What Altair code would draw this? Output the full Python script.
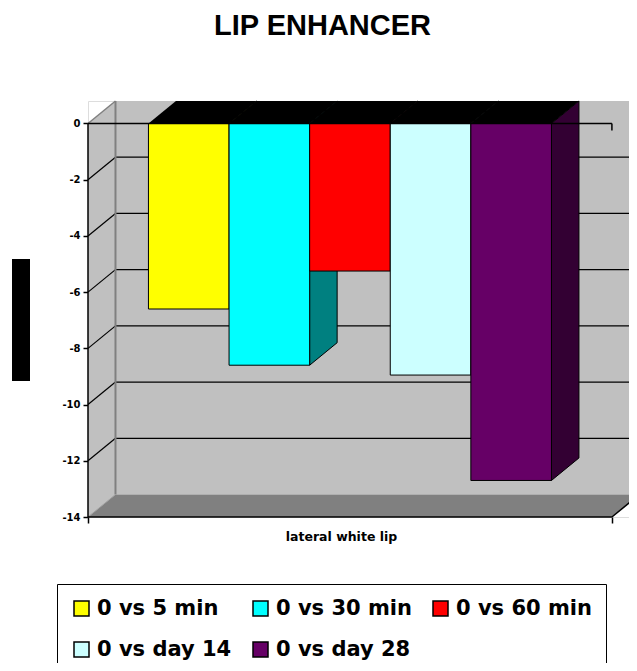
import altair as alt
import pandas as pd

# ---- data ----
chart_title = "LIP ENHANCER"
category = "lateral white lip"
series = ["0 vs 5 min", "0 vs 30 min", "0 vs 60 min", "0 vs day 14", "0 vs day 28"]
values = [-6.6, -8.6, -5.25, -8.95, -12.7]
front_colors = ["#FFFF00", "#00FFFF", "#FF0000", "#CCFFFF", "#660066"]
side_colors = ["#808000", "#008080", "#800000", "#668080", "#330033"]
y_ticks = [-14, -12, -10, -8, -6, -4, -2, 0]

# ---- 3-D geometry (in axis units) ----
AXIS_LEN = 6.5                       # length of the front category axis in bar widths
GAP = (AXIS_LEN - len(series)) / 2   # empty space each side of the bar group
DX = 0.341                           # depth offset along x
DY = 0.8                             # depth offset along y
YMIN = y_ticks[0]
X_MAX = 6.712

xs = alt.Scale(domain=[0, X_MAX], nice=False, zero=False)
ys = alt.Scale(domain=[YMIN, DY], nice=False, zero=False)
WALL = "#C0C0C0"
FLOOR = "#808080"

x_axis = alt.Axis(values=[0, AXIS_LEN], labels=False, domain=False, grid=False,
                  ticks=True, tickSize=6, tickColor="black", tickWidth=1.5,
                  title=category,
                  titleFont="DejaVu Sans", titleFontWeight="bold", titleFontSize=12.5,
                  titleColor="black", titleX=253, titleY=23,
                  titleBaseline="alphabetic", titleAlign="center")
y_axis = alt.Axis(values=y_ticks, labelExpr="'' + datum.value", domain=False, grid=False,
                  ticks=True, tickSize=5, tickColor="black", tickWidth=1.5, title=None,
                  labelFont="DejaVu Sans", labelFontWeight="bold", labelFontSize=10,
                  labelColor="black", labelPadding=3)


def X(f="x"):
    return alt.X(f"{f}:Q", scale=xs, axis=x_axis, title=category)


def Y(f="y"):
    return alt.Y(f"{f}:Q", scale=ys, axis=y_axis, title=None)


# walls (vertical areas)
walls = pd.DataFrame([
    {"face": "left", "x": 0, "y": YMIN, "y2": 0, "fill": WALL},
    {"face": "left", "x": DX, "y": YMIN + DY, "y2": DY, "fill": WALL},
    {"face": "back", "x": DX, "y": YMIN + DY, "y2": DY, "fill": WALL},
    {"face": "back", "x": AXIS_LEN + DX, "y": YMIN + DY, "y2": DY, "fill": WALL},
])
floor = pd.DataFrame([
    {"y": YMIN, "x": 0, "x2": AXIS_LEN},
    {"y": YMIN + DY, "x": DX, "x2": AXIS_LEN + DX},
])

grid_rows = []
for v in y_ticks[1:-1]:
    grid_rows.append({"x": DX, "x2": AXIS_LEN + DX, "y": v + DY, "y2": v + DY, "c": "black", "w": 1.2})
    grid_rows.append({"x": 0, "x2": DX, "y": v, "y2": v + DY, "c": "black", "w": 1.2})
grid_rows += [
    {"x": 0, "x2": DX, "y": 0, "y2": DY, "c": "#808080", "w": 1.5},
    {"x": DX, "x2": DX, "y": YMIN + DY, "y2": DY, "c": "#808080", "w": 2},
    {"x": 0, "x2": DX, "y": YMIN, "y2": YMIN + DY, "c": "#A0A0A0", "w": 1},
]
grid = pd.DataFrame(grid_rows)

side_rows, top_rows, front_rows = [], [], []
for i, (s, v, fc, sc) in enumerate(zip(series, values, front_colors, side_colors)):
    xl = GAP + i
    xr = xl + 1
    side_rows += [
        {"id": s, "x": xr, "y": v, "y2": 0, "fill": sc},
        {"id": s, "x": xr + DX, "y": v + DY, "y2": DY, "fill": sc},
    ]
    top_rows += [
        {"id": s, "y": 0, "x": xl, "x2": xr},
        {"id": s, "y": DY, "x": xl + DX, "x2": xr + DX},
    ]
    front_rows.append({"series": s, "x": xl, "x2": xr, "y": v, "y2": 0})
sides = pd.DataFrame(side_rows)
tops = pd.DataFrame(top_rows)
fronts = pd.DataFrame(front_rows)

frame = pd.DataFrame([
    {"x": 0, "x2": 0, "y": YMIN, "y2": 0},
    {"x": 0, "x2": AXIS_LEN, "y": YMIN, "y2": YMIN},
    {"x": AXIS_LEN, "x2": AXIS_LEN + DX, "y": YMIN, "y2": YMIN + DY},
    {"x": 0, "x2": AXIS_LEN, "y": 0, "y2": 0},
    {"x": AXIS_LEN, "x2": AXIS_LEN, "y": 0, "y2": -0.25},
])

wall_layer = alt.Chart(walls).mark_area(orient="vertical").encode(
    x=X(), y=Y(), y2="y2:Q", detail="face:N",
    fill=alt.Fill("fill:N", scale=None, legend=None))

floor_layer = alt.Chart(floor).mark_area(orient="horizontal", color=FLOOR).encode(
    y=Y(), x=X(), x2="x2:Q")

grid_layer = alt.Chart(grid).mark_rule().encode(
    x=X(), x2="x2:Q", y=Y(), y2="y2:Q",
    stroke=alt.Stroke("c:N", scale=None, legend=None),
    strokeWidth=alt.StrokeWidth("w:Q", scale=None, legend=None))

side_layer = alt.Chart(sides).mark_area(orient="vertical", stroke="black", strokeWidth=1).encode(
    x=X(), y=Y(), y2="y2:Q", detail="id:N",
    fill=alt.Fill("fill:N", scale=None, legend=None))

top_layer = alt.Chart(tops).mark_area(orient="horizontal", color="black").encode(
    y=Y(), x=X(), x2="x2:Q", detail="id:N")

front_layer = alt.Chart(fronts).mark_rect(stroke="black", strokeWidth=1).encode(
    x=X(), x2="x2:Q", y=Y(), y2="y2:Q",
    color=alt.Color("series:N", sort=series,
                    scale=alt.Scale(domain=series, range=front_colors),
                    legend=alt.Legend(orient="none", legendX=-31, legendY=483,
                                      direction="horizontal", columns=3, title=None,
                                      symbolType="square", symbolSize=225,
                                      symbolStrokeColor="black", symbolStrokeWidth=1.5,
                                      symbolOpacity=1,
                                      labelFont="DejaVu Sans", labelFontWeight="bold",
                                      labelFontSize=21, labelColor="black", labelOffset=5,
                                      labelLimit=300, columnPadding=18, rowPadding=19,
                                      padding=14, strokeColor="black", fillColor="white")),
)

frame_layer = alt.Chart(frame).mark_rule(color="black", strokeWidth=1.5).encode(
    x=X(), x2="x2:Q", y=Y(), y2="y2:Q")

block_layer = alt.Chart(pd.DataFrame({"k": [0]})).mark_rect(color="black").encode(
    x=alt.value(-76), x2=alt.value(-58), y=alt.value(158), y2=alt.value(280))

chart = alt.layer(
    wall_layer, floor_layer, grid_layer, side_layer, top_layer, front_layer, frame_layer, block_layer
).properties(
    width=541, height=416,
    title=alt.TitleParams(chart_title, font="Liberation Sans", fontSize=29, fontWeight="bold",
                          color="black", anchor="middle", frame="group", dx=-36, offset=58),
    padding={"left": 80, "top": 93, "right": 0, "bottom": 146},
    autosize="none",
).configure_view(stroke=None).configure(background="white")

chart.save("out.html", embed_options={"renderer": "svg", "actions": False})
